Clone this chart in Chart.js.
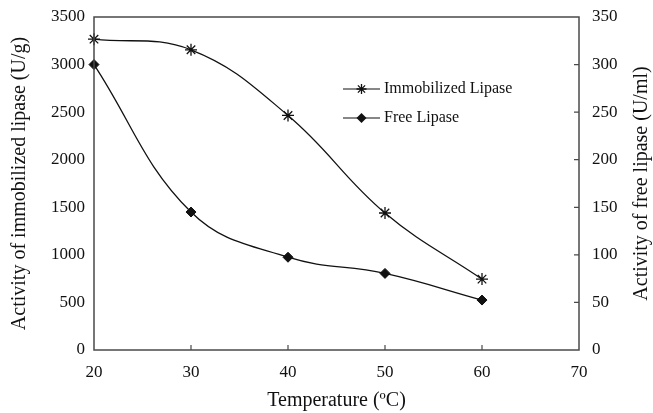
<!DOCTYPE html>
<html>
<head>
<meta charset="utf-8">
<script src="https://cdn.jsdelivr.net/npm/chart.js@4.4.1/dist/chart.umd.min.js"></script>
<style>
  html, body { margin: 0; padding: 0; background: #fff; }
  #wrap { width: 653px; height: 413px; position: relative; }
</style>
</head>
<body>
<div id="wrap"><canvas id="myChart"></canvas></div>
<script>
// temperatures (°C) and activities
var temperatures = [20, 30, 40, 50, 60];
var immobilized = [3267, 3155, 2465, 1440, 745];   // U/g, left axis
var freeLipase = [300, 145, 97.5, 80.5, 52.5];      // U/ml, right axis

var xTicks = [20, 30, 40, 50, 60, 70];
var leftTicks = [0, 500, 1000, 1500, 2000, 2500, 3000, 3500];
var rightTicks = [0, 50, 100, 150, 200, 250, 300, 350];

var rightTitle = 'Activity of free lipase (U/ml)';

var serif = "'Liberation Serif', 'Times New Roman', serif";
var frameColor = '#4a4a4a';
var ink = '#111';

function toPoints(xs, ys) {
    return xs.map(function (x, i) { return { x: x, y: ys[i] }; });
}

function plain(v) { return String(v); }

// fixed axis boxes so the plot area lands where it should
function fitY(width) {
    return function (s) {
        s.width = width;
        s.paddingTop = 0;
        s.paddingBottom = 0;
    };
}

// small marker painter, used by the in-chart legend
function drawMarker(ctx, style, x, y, r) {
    ctx.save();
    ctx.strokeStyle = ink;
    ctx.fillStyle = ink;
    ctx.lineWidth = 1.3;
    if (style === 'star') {
        ctx.beginPath();
        ctx.moveTo(x - r, y); ctx.lineTo(x + r, y);
        ctx.moveTo(x, y - r); ctx.lineTo(x, y + r);
        var d = r * 0.72;
        ctx.moveTo(x - d, y - d); ctx.lineTo(x + d, y + d);
        ctx.moveTo(x - d, y + d); ctx.lineTo(x + d, y - d);
        ctx.stroke();
    } else {
        ctx.beginPath();
        ctx.moveTo(x, y - r); ctx.lineTo(x + r, y);
        ctx.lineTo(x, y + r); ctx.lineTo(x - r, y);
        ctx.closePath();
        ctx.fill();
    }
    ctx.restore();
}

// box around the plot, inward tick marks, right title and the legend
var framePlugin = {
    id: 'framePlugin',
    afterDraw: function (chart) {
        var ctx = chart.ctx;
        var a = chart.chartArea;
        ctx.save();
        ctx.strokeStyle = frameColor;
        ctx.lineWidth = 1.5;
        ctx.strokeRect(a.left, a.top, a.right - a.left, a.bottom - a.top);

        ctx.lineWidth = 1.2;
        ctx.beginPath();
        var xs = chart.scales.x;
        xs.ticks.forEach(function (t) {
            if (t.value === xs.min || t.value === xs.max) return;
            var px = xs.getPixelForValue(t.value);
            ctx.moveTo(px, a.bottom); ctx.lineTo(px, a.bottom - 5);
        });
        var ys = chart.scales.y1;
        ys.ticks.forEach(function (t) {
            if (t.value === ys.min || t.value === ys.max) return;
            var py = ys.getPixelForValue(t.value);
            ctx.moveTo(a.right, py); ctx.lineTo(a.right - 5, py);
        });
        ctx.stroke();

        // right axis title, reading bottom to top like the left one
        ctx.save();
        ctx.translate(642, (a.top + a.bottom) / 2);
        ctx.rotate(-Math.PI / 2);
        ctx.fillStyle = ink;
        ctx.font = '20px ' + serif;
        ctx.textAlign = 'center';
        ctx.textBaseline = 'middle';
        ctx.fillText(rightTitle, 0, 0);
        ctx.restore();

        // legend rows
        var lx = 343, rows = [89, 118];
        chart.data.datasets.forEach(function (ds, i) {
            var y = rows[i];
            ctx.strokeStyle = ink;
            ctx.lineWidth = 1.2;
            ctx.beginPath();
            ctx.moveTo(lx, y); ctx.lineTo(lx + 37, y);
            ctx.stroke();
            drawMarker(ctx, ds.pointStyle, lx + 18.5, y, 5);
            ctx.fillStyle = ink;
            ctx.font = '16px ' + serif;
            ctx.textBaseline = 'middle';
            ctx.textAlign = 'left';
            ctx.fillText(ds.label, lx + 41, y);
        });
        ctx.restore();
    }
};

var data = {
    datasets: [{
        label: 'Immobilized Lipase',
        data: toPoints(temperatures, immobilized),
        yAxisID: 'y',
        borderColor: ink,
        backgroundColor: ink,
        borderWidth: 1.3,
        pointStyle: 'star',
        pointRadius: 6,
        pointBorderWidth: 1.3,
        tension: 0.4,
        clip: false
    }, {
        label: 'Free Lipase',
        data: toPoints(temperatures, freeLipase),
        yAxisID: 'y1',
        borderColor: ink,
        backgroundColor: ink,
        borderWidth: 1.3,
        pointStyle: 'rectRot',
        pointRadius: 5,
        pointBorderWidth: 1,
        tension: 0.4,
        clip: false
    }]
};

var tickFont = { family: serif, size: 17 };
var titleFont = { family: serif, size: 20 };

var options = {
    responsive: true,
    maintainAspectRatio: false,
    animation: false,
    layout: { padding: { top: 17, left: 0, right: 0, bottom: 0 } },
    plugins: {
        legend: { display: false },
        tooltip: { enabled: false }
    },
    scales: {
        x: {
            type: 'linear',
            min: 20,
            max: 70,
            afterBuildTicks: function (s) { s.ticks = xTicks.map(function (v) { return { value: v }; }); },
            afterFit: function (s) { s.height = 63; s.paddingLeft = 0; s.paddingRight = 0; },
            grid: { display: false, drawTicks: false },
            border: { display: false },
            ticks: { color: ink, font: tickFont, padding: 12, maxRotation: 0, callback: plain },
            title: { display: true, text: 'Temperature (ºC)', color: ink, font: titleFont, padding: 0 }
        },
        y: {
            position: 'left',
            min: 0,
            max: 3500,
            afterBuildTicks: function (s) { s.ticks = leftTicks.map(function (v) { return { value: v }; }); },
            afterFit: fitY(94),
            grid: { display: false, drawTicks: false },
            border: { display: false },
            ticks: { color: ink, font: tickFont, padding: 9, callback: plain },
            title: { display: true, text: 'Activity of immobilized lipase (U/g)', color: ink, font: titleFont, padding: { top: 8, bottom: 0 } }
        },
        y1: {
            position: 'right',
            min: 0,
            max: 350,
            afterBuildTicks: function (s) { s.ticks = rightTicks.map(function (v) { return { value: v }; }); },
            afterFit: fitY(74),
            grid: { display: false, drawTicks: false },
            border: { display: false },
            ticks: { color: ink, font: tickFont, padding: 13, callback: plain }
        }
    }
};

var ctx = document.getElementById('myChart').getContext('2d');
var myChart = new Chart(ctx, {
    type: 'line',
    data: data,
    options: options,
    plugins: [framePlugin]
});
</script>
</body>
</html>
